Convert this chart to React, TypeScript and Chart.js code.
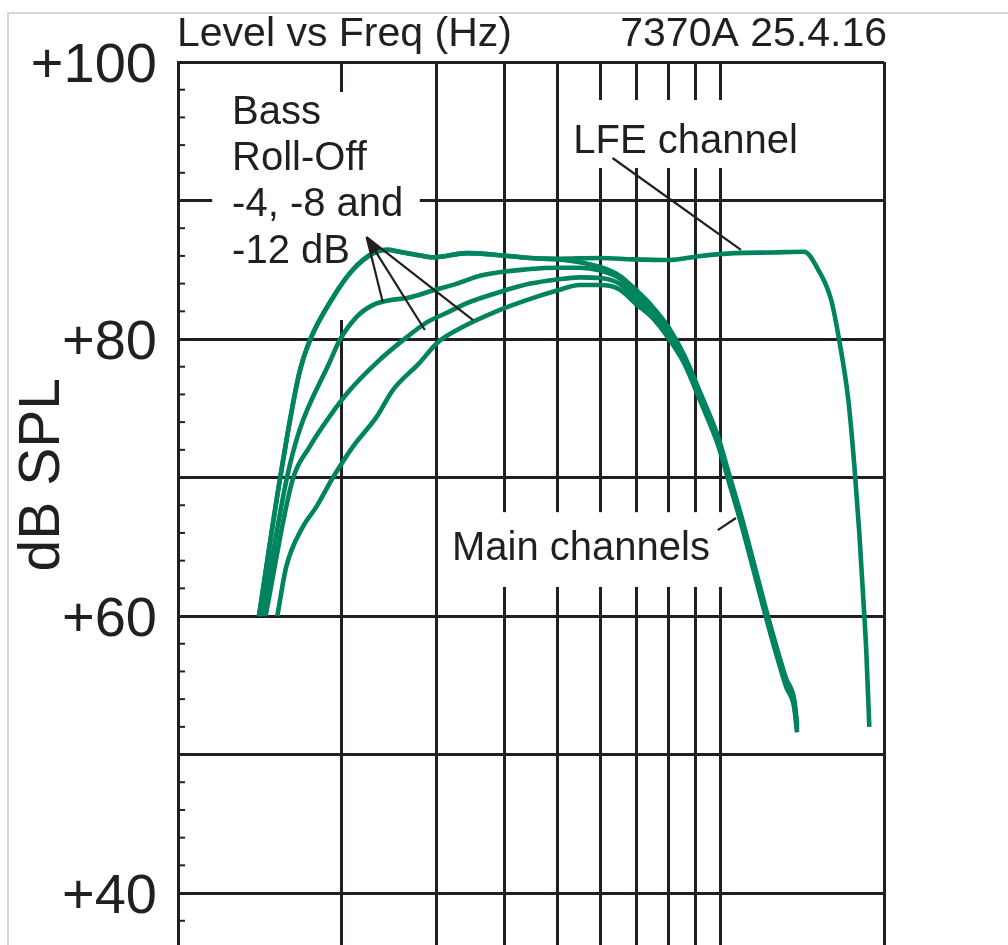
import React, { useEffect, useRef } from 'react';
import { Chart, registerables } from 'chart.js';

Chart.register(...registerables);

const GREEN = '#00845f';
const INK = '#231f20';
const FONT = '"Liberation Sans", Arial, Helvetica, sans-serif';

// ---- axes ----
const freqGridLines = [10, 20, 30, 40, 50, 60, 70, 80, 90, 100, 200];
const levelGridLines = [40, 50, 60, 70, 80, 90, 100];
const levelTickValues = [40, 60, 80, 100];
const levelTickLabels = ['+40', '+60', '+80', '+100'];
const minorTickLevels = [38, 42, 44, 46, 48, 52, 54, 56, 58, 62, 64, 66, 68, 72, 74, 76, 78, 82, 84, 86, 88, 92, 94, 96, 98];

// ---- series (Hz, dB SPL) ----
const lfeFreq = [14.1, 15.4, 16.7, 17.5, 19.3, 21.0, 22.9, 24.3, 25.6, 28.3, 29.5, 34.1, 39.2, 44.6, 50, 60, 69, 80, 92, 106, 125, 142.5, 151.3, 159.9, 165.4, 171.9, 176.4, 180.1, 183.2, 185.5, 187.9];
const lfeLevel = [60.0, 69.8, 77.4, 79.9, 83.0, 85.0, 86.2, 86.45, 86.3, 86.0, 85.9, 86.2, 86.05, 85.85, 85.8, 85.85, 85.75, 85.7, 86.0, 86.2, 86.25, 86.3, 85.0, 82.8, 79.9, 75.6, 70.8, 66.0, 61.2, 57.5, 52.0];

const mainFlatFreq = [14.1, 15.4, 16.7, 17.5, 19.3, 21.0, 22.9, 24.3, 25.6, 28.3, 29.5, 34.1, 39.2, 44.6, 50, 55, 60, 65, 70, 75, 80, 85.5, 92, 99, 103, 109, 115, 121, 126.5, 132, 136.6, 138.3];
const mainFlatLevel = [60.0, 69.8, 77.4, 79.9, 83.0, 85.0, 86.2, 86.45, 86.3, 86.0, 85.9, 86.2, 86.05, 85.85, 85.75, 85.55, 85.2, 84.6, 83.5, 82.3, 80.9, 78.9, 76.0, 72.9, 70.6, 67.3, 63.9, 60.6, 57.9, 55.5, 54.0, 52.2];

const mainMinus4Freq = [14.3, 15.84, 16.74, 19.02, 19.85, 21.34, 22.85, 24.56, 26.4, 29.49, 32.67, 36.3, 44.6, 50, 55, 60, 65, 70, 75, 80, 85.5, 92, 99, 103, 109, 115, 121, 126.5, 132, 136.6, 138.3];
const mainMinus4Level = [60.0, 69.8, 73.4, 78.3, 79.9, 81.6, 82.45, 82.8, 82.96, 83.5, 84.0, 84.6, 85.05, 85.15, 85.15, 84.95, 84.4, 83.2, 82.0, 80.7, 78.7, 75.8, 72.7, 70.4, 67.1, 63.7, 60.4, 57.7, 55.3, 53.8, 52.0];

const mainMinus8Freq = [14.5, 16.25, 17.47, 19.02, 20.72, 23.24, 25.95, 28.74, 31.3, 34.09, 39.2, 44.6, 50, 55, 60, 65, 70, 75, 80, 85.5, 92, 99, 103, 109, 115, 121, 126.5, 132, 136.6, 138.3];
const mainMinus8Level = [60.0, 69.8, 72.2, 74.4, 76.3, 78.3, 79.9, 81.2, 81.9, 82.6, 83.4, 84.0, 84.3, 84.45, 84.4, 84.0, 82.9, 81.8, 80.4, 78.5, 75.6, 72.5, 70.2, 66.9, 63.5, 60.2, 57.5, 55.1, 53.6, 51.8];

const mainMinus12Freq = [15.24, 15.84, 16.96, 18.0, 19.3, 20.98, 23.24, 24.87, 27.9, 30.0, 32.67, 39.2, 44.6, 50, 55, 60, 65, 70, 75, 80, 85.5, 92, 99, 103, 109, 115, 121, 126.5, 132, 136.6, 138.3];
const mainMinus12Level = [60.0, 63.6, 66.4, 67.9, 70.0, 72.2, 74.4, 76.3, 78.3, 79.7, 80.65, 82.1, 82.9, 83.5, 83.9, 83.9, 83.6, 82.5, 81.5, 80.1, 78.3, 75.4, 72.3, 70.0, 66.7, 63.3, 60.0, 57.3, 54.9, 53.4, 51.6];

// ---- annotations (data coordinates) ----
const titleLeft = 'Level vs Freq (Hz)';
const titleRight = '7370A 25.4.16';
const yAxisTitle = 'dB SPL';
const bassLabelLines = ['Bass', 'Roll-Off', '-4, -8 and', '-12 dB'];
const bassLabelFreq = 12.58;
const bassLabelBaselines = [95.55, 92.2, 88.85, 85.5];
const lfeLabel = { text: 'LFE channel', f: 53.5, db: 93.43 };
const mainLabel = { text: 'Main channels', f: 31.98, db: 64.04 };
// [fLeft, fRight, dbTop, dbBottom]
const labelMasks = [
  [11.56, 27.9, 97.83, 81.37],
  [51.1, 145.6, 97.26, 92.35],
  [31.0, 102.5, 67.5, 62.1],
];
const bassArrowTip = [22.26, 87.36];
const bassArrowEnds = [[23.84, 82.67], [28.5, 80.65], [34.97, 81.37]];
const lfeLeader = [[63.2, 93.07], [109, 86.43]];
const mainLeader = [[98.8, 66.2], [106.7, 67.08]];

const toPoints = (f: number[], l: number[]) => f.map((x, i) => ({ x, y: l[i] }));

const overlayPlugin = {
  id: 'overlay',
  beforeDatasetsDraw(chart: any) {
    const { ctx, chartArea, scales } = chart;
    const x = scales.x, y = scales.y;
    ctx.save();
    ctx.fillStyle = '#ffffff';
    for (const m of labelMasks) {
      const x1 = x.getPixelForValue(m[0]);
      const x2 = x.getPixelForValue(m[1]);
      const y1 = y.getPixelForValue(m[2]);
      const y2 = y.getPixelForValue(m[3]);
      ctx.fillRect(x1, y1, x2 - x1, y2 - y1);
    }
    ctx.strokeStyle = INK;
    ctx.lineWidth = 2;
    for (const v of minorTickLevels) {
      const py = y.getPixelForValue(v);
      if (py > chartArea.bottom) continue;
      ctx.beginPath();
      ctx.moveTo(chartArea.left, py);
      ctx.lineTo(chartArea.left + 7, py);
      ctx.stroke();
    }
    ctx.restore();
  },
  afterDatasetsDraw(chart: any) {
    const { ctx, chartArea, scales } = chart;
    const x = scales.x, y = scales.y;
    const P = (p: number[]) => [x.getPixelForValue(p[0]), y.getPixelForValue(p[1])];
    ctx.save();
    ctx.strokeStyle = INK;
    ctx.fillStyle = INK;
    ctx.lineWidth = 2.2;
    const line = (a: number[], b: number[]) => {
      const pa = P(a), pb = P(b);
      ctx.beginPath();
      ctx.moveTo(pa[0], pa[1]);
      ctx.lineTo(pb[0], pb[1]);
      ctx.stroke();
    };
    for (const e of bassArrowEnds) line(bassArrowTip, e);
    const tip = P(bassArrowTip);
    let dx = 0, dy = 0;
    for (const e of bassArrowEnds) {
      const pe = P(e);
      const len = Math.hypot(pe[0] - tip[0], pe[1] - tip[1]);
      dx += (pe[0] - tip[0]) / len;
      dy += (pe[1] - tip[1]) / len;
    }
    const dl = Math.hypot(dx, dy);
    dx /= dl; dy /= dl;
    const hl = 17, hw = 6;
    ctx.beginPath();
    ctx.moveTo(tip[0], tip[1]);
    ctx.lineTo(tip[0] + dx * hl - dy * hw, tip[1] + dy * hl + dx * hw);
    ctx.lineTo(tip[0] + dx * hl + dy * hw, tip[1] + dy * hl - dx * hw);
    ctx.closePath();
    ctx.fill();
    line(lfeLeader[0], lfeLeader[1]);
    line(mainLeader[0], mainLeader[1]);

    ctx.font = `40px ${FONT}`;
    ctx.textAlign = 'left';
    ctx.textBaseline = 'alphabetic';
    bassLabelLines.forEach((t, i) => {
      ctx.fillText(t, x.getPixelForValue(bassLabelFreq), y.getPixelForValue(bassLabelBaselines[i]));
    });
    ctx.fillText(lfeLabel.text, x.getPixelForValue(lfeLabel.f), y.getPixelForValue(lfeLabel.db));
    ctx.fillText(mainLabel.text, x.getPixelForValue(mainLabel.f), y.getPixelForValue(mainLabel.db));

    ctx.font = `41px ${FONT}`;
    ctx.fillText(titleLeft, chartArea.left - 1, 46);
    ctx.textAlign = 'right';
    ctx.fillText(titleRight, chartArea.right + 3, 46);

    ctx.font = `57px ${FONT}`;
    ctx.textAlign = 'center';
    ctx.translate(59, y.getPixelForValue(70.2));
    ctx.rotate(-Math.PI / 2);
    ctx.fillText(yAxisTitle, 0, 0);
    ctx.restore();
  },
};

export default function App() {
  const ref = useRef<HTMLCanvasElement | null>(null);
  useEffect(() => {
    if (!ref.current) return;
    const ds = (f: number[], l: number[]) => ({
      data: toPoints(f, l),
      borderColor: GREEN,
      borderWidth: 4.6,
      pointRadius: 0,
      fill: false,
      cubicInterpolationMode: 'monotone' as const,
    });
    const chart = new Chart(ref.current, {
      type: 'line',
      data: {
        datasets: [
          ds(mainMinus12Freq, mainMinus12Level),
          ds(mainMinus8Freq, mainMinus8Level),
          ds(mainMinus4Freq, mainMinus4Level),
          ds(mainFlatFreq, mainFlatLevel),
          ds(lfeFreq, lfeLevel),
        ],
      },
      options: {
        animation: false,
        responsive: false,
        layout: { padding: { left: 0, top: 62, right: 124, bottom: 0 } },
        plugins: { legend: { display: false }, tooltip: { enabled: false }, title: { display: false } },
        scales: {
          x: {
            type: 'logarithmic',
            min: 10,
            max: 200,
            afterBuildTicks: (s: any) => { s.ticks = freqGridLines.map((v) => ({ value: v })); },
            ticks: { display: false },
            grid: { color: INK, lineWidth: 3, drawTicks: false },
            border: { display: false },
            afterFit: (s: any) => { s.height = 0; s.paddingLeft = 0; s.paddingRight = 0; },
          },
          y: {
            type: 'linear',
            min: 36.25,
            max: 100,
            afterBuildTicks: (s: any) => { s.ticks = levelGridLines.map((v) => ({ value: v })); },
            ticks: {
              autoSkip: false,
              padding: 21,
              labelOffset: 5,
              color: INK,
              font: { family: FONT, size: 56, lineHeight: 1 },
              callback: (v: any) => {
                const i = levelTickValues.indexOf(Number(v));
                return i >= 0 ? levelTickLabels[i] : '';
              },
            },
            grid: { color: INK, lineWidth: 3, drawTicks: false },
            border: { display: true, color: INK, width: 3 },
            afterFit: (s: any) => { s.width = 178; s.paddingTop = 0; s.paddingBottom = 0; },
          },
        },
      } as any,
      plugins: [overlayPlugin],
    });
    return () => chart.destroy();
  }, []);
  return (
    <div style={{ position: 'absolute', left: 0, top: 0, width: 1008, height: 945, overflow: 'hidden', background: '#fff' }}>
      <div style={{ position: 'absolute', left: 7, top: 12, width: 1001, height: 933, borderTop: '2px solid #d6d6d6', borderLeft: '2px solid #d6d6d6' }} />
      <canvas ref={ref} width={1008} height={945} style={{ position: 'absolute', left: 0, top: 0 }} />
    </div>
  );
}
